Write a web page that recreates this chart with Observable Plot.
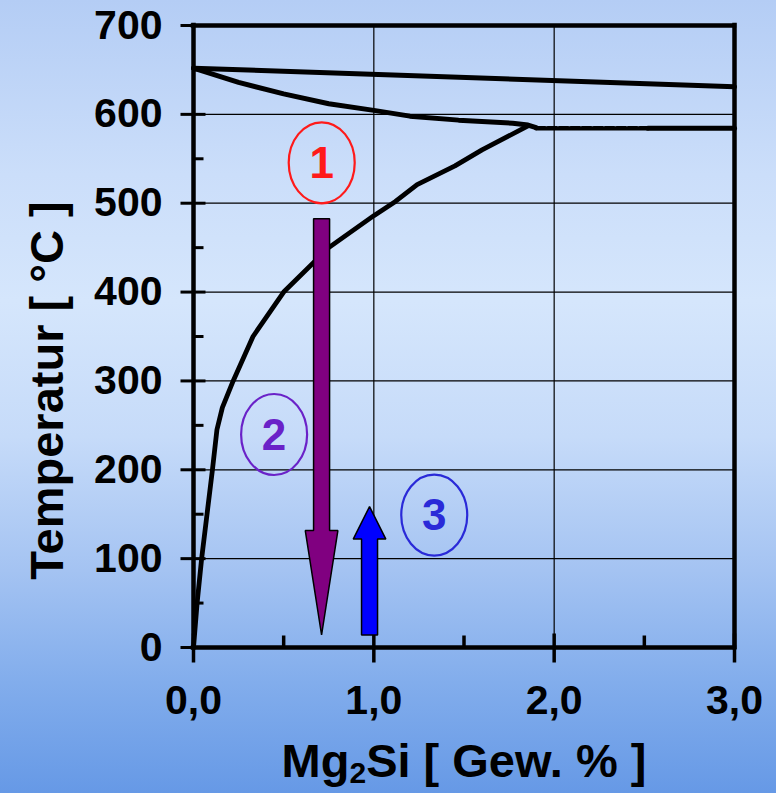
<!DOCTYPE html>
<html><head><meta charset="utf-8">
<script src="https://cdn.jsdelivr.net/npm/d3@7"></script>
<script src="https://cdn.jsdelivr.net/npm/@observablehq/plot@0.6"></script>
<style>
html,body{margin:0;padding:0;width:776px;height:793px;overflow:hidden;
background:linear-gradient(to bottom,#b4cdf5 0%,#cbdefa 22%,#d5e6fc 38%,#c6dbf9 55%,#a4c3f2 72%,#82adec 86%,#6699e6 100%);}
#chart svg{display:block;background:transparent;}
</style></head><body><div id="chart"></div>
<script>
// ---- data ----
const xTickValues = [0, 1, 2, 3];
const xTickLabels = ["0,0", "1,0", "2,0", "3,0"];
const xMinorTicks = [0.5, 1.5, 2.5];
const yTickValues = [0, 100, 200, 300, 400, 500, 600, 700];
const yMinorTicks = [50, 150, 250, 350, 450, 550, 650];
const xGrid = [1, 2];
const yGrid = [100, 200, 300, 400, 500, 600];

const liquidusX = [0, 3.0];
const liquidusT = [652, 631];

const solidusX = [0, 0.25, 0.5, 0.75, 1.0, 1.2, 1.47, 1.77, 1.855, 1.9];
const solidusT = [652, 636, 623, 612, 604.5, 598, 593.5, 590, 588, 585];

const solvusX = [0, 0.02, 0.045, 0.075, 0.105, 0.13, 0.16, 0.22, 0.33, 0.5, 0.75, 1.0, 1.12, 1.24, 1.45, 1.6, 1.855];
const solvusT = [0, 50, 100, 150, 200, 245, 270, 300, 350, 400, 450, 486, 502, 521, 542, 560, 587];

const eutecticDashX = [1.9, 2.52];
const eutecticSolidX = [2.52, 3.0];
const eutecticT = 584.5;

const arrowX = [0.713, 0.979];
const arrowStart = [482, 13.5];
const arrowHeadBase = [131, 121.5];
const arrowTip = [13.5, 158];
const arrowColors = ["#800080", "#0000ff"];

const markerLabels = ["1", "2", "3"];
const markerX = [0.711, 0.447, 1.335];
const markerT = [545.5, 239.7, 149];
const markerColors = ["#ff1a1a", "#6a22c8", "#2a2ad8"];

// ---- layout ----
const W = 776, H = 793, mL = 193, mR = 42, mT = 25, mB = 146;
const pxPerUnit = (W - mL - mR) / 3;
const shaftHalf = 8 / pxPerUnit, headHalf = 16.3 / pxPerUnit;

const pts = (xs, ys) => xs.map((x, i) => ({x, y: Array.isArray(ys) ? ys[i] : ys}));

const ellipseSymbol = {draw(c) {
  const rx = 33, ry = 40.5, k = 0.5523;
  c.moveTo(rx, 0);
  c.bezierCurveTo(rx, k*ry, k*rx, ry, 0, ry);
  c.bezierCurveTo(-k*rx, ry, -rx, k*ry, -rx, 0);
  c.bezierCurveTo(-rx, -k*ry, -k*rx, -ry, 0, -ry);
  c.bezierCurveTo(k*rx, -ry, rx, -k*ry, rx, 0);
  c.closePath();
}};
const yMajorTick = {draw(c){ c.moveTo(-13, 0); c.lineTo(12, 0); }};
const yMinorTick = {draw(c){ c.moveTo(0, 0); c.lineTo(10, 0); }};
const xMajorTick = {draw(c){ c.moveTo(0, -14); c.lineTo(0, 15); }};
const xMinorTick = {draw(c){ c.moveTo(0, -12); c.lineTo(0, 0); }};

const arrowMarks = arrowX.map((x, i) => {
  const poly = [
    {y: arrowStart[i], x1: x - shaftHalf, x2: x + shaftHalf},
    {y: arrowHeadBase[i], x1: x - shaftHalf, x2: x + shaftHalf},
    {y: arrowHeadBase[i], x1: x - headHalf, x2: x + headHalf},
    {y: arrowTip[i], x1: x, x2: x}
  ];
  return Plot.areaX(poly, {y: "y", x1: "x1", x2: "x2", fill: arrowColors[i], stroke: "black", strokeWidth: 1.5, strokeLinejoin: "miter"});
});

const markerMarks = markerLabels.flatMap((lab, i) => [
  Plot.dot([lab], {x: () => markerX[i], y: () => markerT[i], symbol: ellipseSymbol, fill: "none", stroke: markerColors[i], strokeWidth: 2.2}),
  Plot.text([lab], {x: () => markerX[i], y: () => markerT[i], text: d => d, fill: markerColors[i], fontSize: 44, fontWeight: "bold", dy: 1})
]);

const font = "'Liberation Sans', Arial, Helvetica, sans-serif";

const chart = Plot.plot({
  width: W, height: H,
  marginLeft: mL, marginRight: mR, marginTop: mT, marginBottom: mB,
  x: {domain: [0, 3], axis: null},
  y: {domain: [0, 700], axis: null},
  style: {background: "transparent", fontFamily: font, overflow: "visible"},
  marks: [
    Plot.ruleX(xGrid, {stroke: "black", strokeWidth: 1.2}),
    Plot.ruleY(yGrid, {stroke: "black", strokeWidth: 1.2}),
    Plot.line(pts(liquidusX, liquidusT), {x: "x", y: "y", stroke: "black", strokeWidth: 5}),
    Plot.line(pts(solidusX, solidusT), {x: "x", y: "y", stroke: "black", strokeWidth: 5, strokeLinejoin: "round"}),
    Plot.line(pts(solvusX, solvusT), {x: "x", y: "y", stroke: "black", strokeWidth: 4.8, strokeLinejoin: "round"}),
    Plot.line(pts(eutecticDashX, eutecticT), {x: "x", y: "y", stroke: "black", strokeWidth: 4.5, strokeDasharray: "9,2.5"}),
    Plot.line(pts(eutecticSolidX, eutecticT), {x: "x", y: "y", stroke: "black", strokeWidth: 5}),
    Plot.ruleX([0, 3], {stroke: "black", strokeWidth: 4.5, strokeLinecap: "square"}),
    Plot.ruleY([0, 700], {stroke: "black", strokeWidth: 4.5, strokeLinecap: "square"}),
    Plot.dot(yTickValues, {x: 0, y: d => d, symbol: yMajorTick, fill: "none", stroke: "black", strokeWidth: 3}),
    Plot.dot(yMinorTicks, {x: 0, y: d => d, symbol: yMinorTick, fill: "none", stroke: "black", strokeWidth: 3}),
    Plot.dot(xTickValues, {x: d => d, y: 0, symbol: xMajorTick, fill: "none", stroke: "black", strokeWidth: 3.5}),
    Plot.dot(xMinorTicks, {x: d => d, y: 0, symbol: xMinorTick, fill: "none", stroke: "black", strokeWidth: 3.5}),
    ...arrowMarks,
    ...markerMarks,
    Plot.text(yTickValues, {x: 0, y: d => d, text: d => String(d), textAnchor: "end", dx: -31, fontSize: 41, fontWeight: "bold", fill: "black"}),
    Plot.text(xTickValues, {x: d => d, y: 0, text: (d, i) => xTickLabels[i], dy: 53, fontSize: 41, fontWeight: "bold", fill: "black"}),
    Plot.text(["Temperatur [ °C ]"], {frameAnchor: "left", text: d => d, rotate: -90, textAnchor: "middle", lineAnchor: "middle", dx: -146, dy: 54, fontSize: 47, fontWeight: "bold", fill: "black"}),
    Plot.text(["Mg2Si [ Gew. % ]"], {frameAnchor: "bottom", text: d => d, textAnchor: "middle", lineAnchor: "middle", dy: 114, fontSize: 47, fontWeight: "bold", fill: "black"})
  ]
});
document.getElementById("chart").appendChild(chart);

// subscript in x-axis title
chart.querySelectorAll("text").forEach(t => {
  if (t.textContent === "Mg2Si [ Gew. % ]") {
    t.textContent = "";
    const ns = "http://www.w3.org/2000/svg";
    const a = document.createElementNS(ns, "tspan"); a.textContent = "Mg";
    const b = document.createElementNS(ns, "tspan"); b.textContent = "2";
    b.setAttribute("font-size", "30"); b.setAttribute("dy", "6");
    const c = document.createElementNS(ns, "tspan"); c.textContent = "Si [ Gew. % ]";
    c.setAttribute("dy", "-6");
    t.append(a, b, c);
  }
});
</script></body></html>
